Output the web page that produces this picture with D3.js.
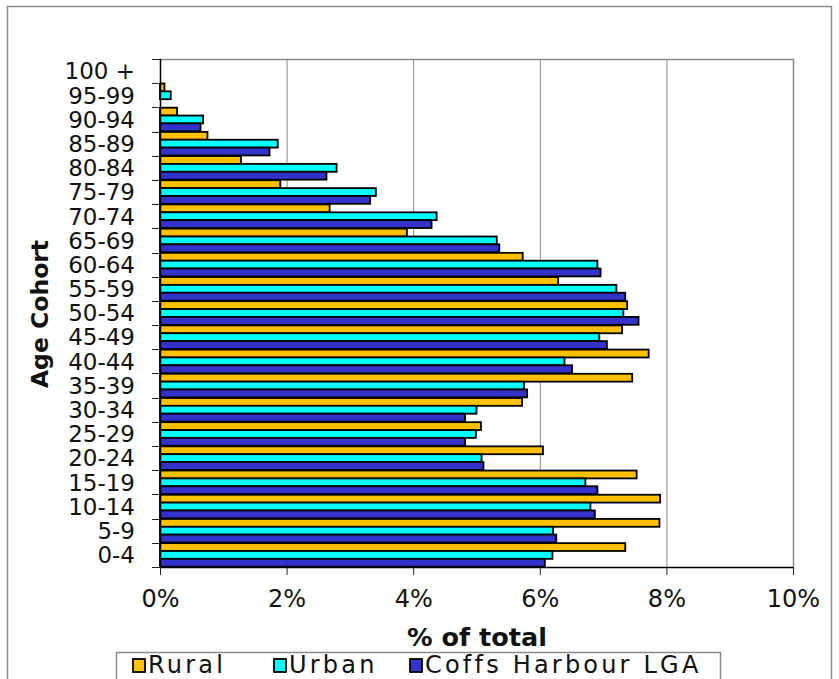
<!DOCTYPE html>
<html>
<head>
<meta charset="utf-8">
<script src="https://cdn.jsdelivr.net/npm/d3@7"></script>
<style>
  html, body { margin: 0; padding: 0; background: #fff; }
  svg { display: block; font-family: "DejaVu Sans", Verdana, sans-serif; }
</style>
</head>
<body>
<svg id="chart" width="839" height="679"></svg>
<script>
// Age cohorts, youngest first
const cohorts = ["0-4","5-9","10-14","15-19","20-24","25-29","30-34","35-39","40-44","45-49",
                 "50-54","55-59","60-64","65-69","70-74","75-79","80-84","85-89","90-94","95-99","100 +"];

// Share of population in each cohort (%)
const rural = [7.35,7.89,7.90,7.53,6.05,5.07,5.72,7.46,7.72,7.30,
               7.38,6.29,5.73,3.90,2.68,1.90,1.28,0.75,0.27,0.07,0];
const urban = [6.20,6.21,6.80,6.72,5.08,4.99,5.00,5.75,6.39,6.94,
               7.32,7.21,6.91,5.32,4.37,3.41,2.79,1.86,0.68,0.17,0];
const coffs = [6.08,6.26,6.87,6.91,5.11,4.82,4.82,5.80,6.51,7.06,
               7.56,7.35,6.96,5.36,4.29,3.32,2.63,1.73,0.64,0,0];

const seriesNames = ["Rural","Urban","Coffs Harbour LGA"];
const seriesColors = ["#FFC000","#00FFFF","#3333CC"];
const xTicks = [0,2,4,6,8,10];

const svg = d3.select("#chart");
const W = 839, H = 679;
const plot = {left: 160, right: 793, top: 59, bottom: 567};

svg.append("rect").attr("width", W).attr("height", H).attr("fill", "#fff");

// outer chart frame (runs past the bottom edge)
svg.append("rect")
  .attr("x", 7.5).attr("y", 6.5).attr("width", 824).attr("height", 700)
  .attr("fill", "none").attr("stroke", "#8c8c8c").attr("stroke-width", 1.5);

const x = d3.scaleLinear().domain([0, 10]).range([plot.left, plot.right]);
const y = d3.scaleBand().domain(cohorts.slice().reverse())
  .range([plot.top, plot.bottom]).paddingInner(0).paddingOuter(0);
const sub = d3.scaleBand().domain(seriesNames)
  .range([0, y.bandwidth()]).paddingInner(0).paddingOuter(0.04);

// vertical gridlines and plot border
const grid = svg.append("g");
grid.selectAll("line").data(xTicks.filter(t => t > 0 && t < 10)).join("line")
  .attr("x1", d => x(d) + 0.5).attr("x2", d => x(d) + 0.5)
  .attr("y1", plot.top).attr("y2", plot.bottom)
  .attr("stroke", "#8c8c8c").attr("stroke-width", 1);
svg.append("line")
  .attr("x1", plot.left).attr("x2", plot.right + 1)
  .attr("y1", plot.top + 0.5).attr("y2", plot.top + 0.5)
  .attr("stroke", "#8c8c8c").attr("stroke-width", 1.5);
svg.append("line")
  .attr("x1", plot.right + 0.5).attr("x2", plot.right + 0.5)
  .attr("y1", plot.top).attr("y2", plot.bottom)
  .attr("stroke", "#8c8c8c").attr("stroke-width", 1.5);

// bars
const series = [rural, urban, coffs];
const rows = [];
cohorts.forEach((c, i) => {
  seriesNames.forEach((s, k) => {
    rows.push({cohort: c, series: s, value: series[k][i], color: seriesColors[k]});
  });
});
svg.append("g").selectAll("rect").data(rows.filter(d => d.value > 0)).join("rect")
  .attr("x", x(0))
  .attr("y", d => y(d.cohort) + sub(d.series))
  .attr("width", d => x(d.value) - x(0))
  .attr("height", sub.bandwidth())
  .attr("fill", d => d.color)
  .attr("stroke", "#000").attr("stroke-width", 1.8);

// y axis: ticks at band boundaries, labels centred on bands
const yAxis = svg.append("g");
const bounds = cohorts.map(c => y(c) + y.bandwidth()).concat([plot.top]);
yAxis.selectAll("line.tick").data(bounds).join("line")
  .attr("class", "tick")
  .attr("x1", plot.left - 8).attr("x2", plot.left)
  .attr("y1", d => Math.round(d) + 0.5).attr("y2", d => Math.round(d) + 0.5)
  .attr("stroke", "#222").attr("stroke-width", 1);
yAxis.append("line")
  .attr("x1", plot.left + 0.5).attr("x2", plot.left + 0.5)
  .attr("y1", plot.top).attr("y2", plot.bottom)
  .attr("stroke", "#000").attr("stroke-width", 1.5);
yAxis.selectAll("text").data(cohorts).join("text")
  .attr("x", 135)
  .attr("y", d => y(d) + y.bandwidth() / 2)
  .attr("dy", "0.36em")
  .attr("text-anchor", "end")
  .attr("font-size", 23)
  .attr("fill", "#111")
  .text(d => d);

// x axis
const xAxis = svg.append("g").attr("transform", `translate(0,${plot.bottom})`)
  .call(d3.axisBottom(x).tickValues(xTicks).tickFormat(d => d + "%").tickSize(8).tickSizeOuter(0));
xAxis.select(".domain").attr("stroke", "#000").attr("stroke-width", 1.5);
xAxis.selectAll(".tick line").attr("stroke", "#222");
xAxis.selectAll(".tick text")
  .attr("font-family", "DejaVu Sans, Verdana, sans-serif")
  .attr("font-size", 24).attr("fill", "#111").attr("y", 23);

// axis titles
svg.append("text")
  .attr("transform", "translate(48,314) rotate(-90)")
  .attr("text-anchor", "middle")
  .attr("font-size", 23.5).attr("font-weight", "bold").attr("fill", "#111")
  .text("Age Cohort");
svg.append("text")
  .attr("x", 477).attr("y", 646)
  .attr("text-anchor", "middle")
  .attr("font-size", 25.5).attr("font-weight", "bold").attr("fill", "#111")
  .text("% of total");

// legend
const legend = svg.append("g");
legend.append("rect")
  .attr("x", 116.5).attr("y", 652.5).attr("width", 604).attr("height", 40)
  .attr("fill", "#fff").attr("stroke", "#8c8c8c").attr("stroke-width", 1.5);
const legendX = [133, 274, 410];
const items = legend.selectAll("g.item").data(seriesNames).join("g")
  .attr("class", "item")
  .attr("transform", (d, i) => `translate(${legendX[i]},0)`);
items.append("rect")
  .attr("x", 0).attr("y", 659).attr("width", 12).attr("height", 13)
  .attr("fill", (d, i) => seriesColors[i])
  .attr("stroke", "#000").attr("stroke-width", 1.8);
items.append("text")
  .attr("x", 15).attr("y", 673)
  .attr("font-size", 24).attr("letter-spacing", 3.2).attr("fill", "#111")
  .text(d => d);
</script>
</body>
</html>
